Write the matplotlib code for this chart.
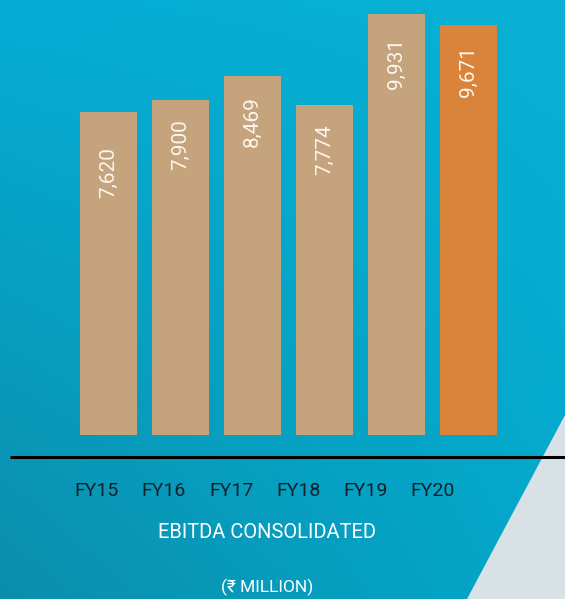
import numpy as np
import matplotlib
matplotlib.use("Agg")
import matplotlib.pyplot as plt
from matplotlib.colors import to_rgb
from matplotlib.patches import Polygon

# data
years = ["FY15", "FY16", "FY17", "FY18", "FY19", "FY20"]
ebitda = [7620, 7900, 8469, 7774, 9931, 9671]
value_labels = ["7,620", "7,900", "8,469", "7,774", "9,931", "9,671"]
title = "EBITDA CONSOLIDATED"
unit = "(\u20b9 MILLION)"

W, H = 565, 599
fig = plt.figure(figsize=(W / 100, H / 100), dpi=100)

# background gradient (bilinear between corner colours)
bg = fig.add_axes([0, 0, 1, 1])
tl, tr = np.array(to_rgb("#05add5")), np.array(to_rgb("#08b1d4"))
bl, br = np.array(to_rgb("#0b8eac")), np.array(to_rgb("#03a8cb"))
u = np.linspace(0, 1, 120)[None, :, None]
v = np.linspace(0, 1, 120)[:, None, None]
img = (1 - v) * ((1 - u) * tl + u * tr) + v * ((1 - u) * bl + u * br)
bg.imshow(img, extent=[0, W, H, 0], aspect="auto", interpolation="bicubic")
bg.add_patch(Polygon([[565, 415], [467, 599], [565, 599]], closed=True,
                     facecolor="#d8e2e6", edgecolor="none"))
bg.set_xlim(0, W)
bg.set_ylim(H, 0)
bg.axis("off")

# bar axes: bar i centred at 108.5 + 72*i px, baseline at y=435 px
ax = fig.add_axes([0, (H - 435) / H, 1, 435 / H])
ax.patch.set_alpha(0)
x = np.arange(len(years))
colors = ["#c4a37d"] * 5 + ["#d9843a"]
ax.bar(x, ebitda, width=0.79, color=colors)
ax.set_xlim(-108.5 / 72, (W - 108.5) / 72)
ax.set_ylim(0, 10250)
ax.axis("off")

px = 10250 / 435  # data units per pixel
drop = [36, 20, 21, 19, 24, 21]
for xi, val, lab, d in zip(x, ebitda, value_labels, drop):
    ax.text(xi, val - d * px, lab, rotation=90, ha="center", va="top",
            color="#fbf6ef", fontsize=15, family="Roboto")

# baseline rule
bg.plot([10, 565], [457, 457], color="black", lw=2.2, solid_capstyle="butt")

# category labels
for i, yr in enumerate(years):
    bg.text(96.7 + 67.2 * i, 491, yr, ha="center", va="center",
            color="#13212a", fontsize=14, family="Roboto")

bg.text(267, 533, title, ha="center", va="center", color="white",
        fontsize=14.5, family=["Roboto", "DejaVu Sans"])
bg.text(267, 587, unit, ha="center", va="center", color="white",
        fontsize=12.5, family=["Roboto", "DejaVu Sans"])

fig.savefig("out.png", dpi=100)
